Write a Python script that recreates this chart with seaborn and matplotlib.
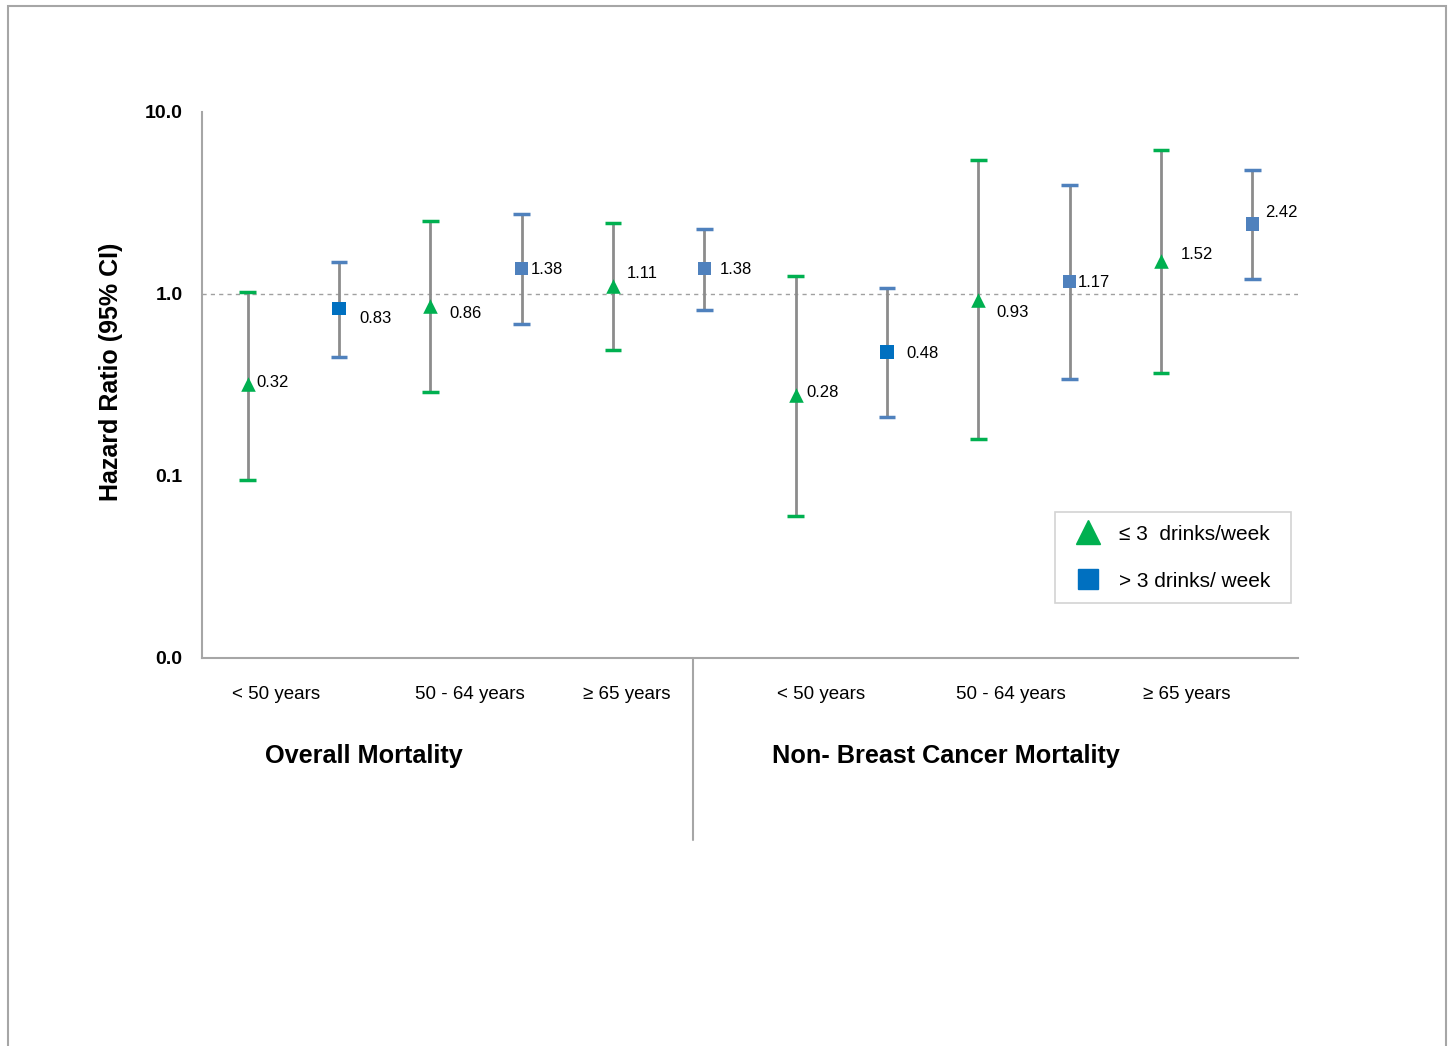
import numpy as np
import pandas as pd
import matplotlib
matplotlib.use("Agg")
import matplotlib.pyplot as plt
import seaborn as sns
from matplotlib.lines import Line2D
from matplotlib.patches import Rectangle

# datos
age_groups = ["< 50 years", "50 - 64 years", "\u2265 65 years",
              "< 50 years", "50 - 64 years", "\u2265 65 years"]
outcomes = ["Overall Mortality", "Non- Breast Cancer Mortality"]

hr_low = [0.32, 0.86, 1.11, 0.28, 0.93, 1.52]      # <= 3 drinks/week
ci_low_lo = [0.095, 0.29, 0.49, 0.06, 0.16, 0.37]
ci_low_hi = [1.03, 2.52, 2.46, 1.26, 5.45, 6.18]

hr_high = [0.83, 1.38, 1.38, 0.48, 1.17, 2.42]     # > 3 drinks/week
ci_high_lo = [0.45, 0.68, 0.82, 0.21, 0.34, 1.21]
ci_high_hi = [1.50, 2.75, 2.28, 1.08, 3.97, 4.80]
shade_high = ["dark", "light", "light", "dark", "light", "light"]

ytick_vals = [0.01, 0.1, 1, 10]
ytick_labels = ["0.0", "0.1", "1.0", "10.0"]

# desplazamientos de las etiquetas (pixeles)
off_low = [(9, 2), (19, -8), (14, 12), (11, 2), (18, -13), (20, 6)]
off_high = [(20, -10), (9, -1), (15, -1), (19, -1), (8, -1), (13, 12)]

GREEN = "#00B050"
BLUE_D = "#0070C0"
BLUE_L = "#4F81BD"
GREY = "#8C8C8C"
AXIS = "#A6A6A6"

n = len(hr_low)
idx = np.arange(n)
df_low = pd.DataFrame({"x": idx + 0.25, "hr": hr_low, "lo": ci_low_lo, "hi": ci_low_hi})
df_high = pd.DataFrame({"x": idx + 0.75, "hr": hr_high, "lo": ci_high_lo,
                        "hi": ci_high_hi, "shade": shade_high})

sns.set_style("white")
plt.rcParams["font.family"] = ["Liberation Sans", "DejaVu Sans"]
plt.rcParams["text.color"] = "black"
plt.rcParams["axes.labelcolor"] = "black"
plt.rcParams["xtick.color"] = "black"
plt.rcParams["ytick.color"] = "black"

fig = plt.figure(figsize=(14.5, 10.46), dpi=100)
ax = fig.add_axes([202 / 1450, 1 - 658 / 1046, 1096 / 1450, 546 / 1046])

# intervalos de confianza
cap = 0.045
for d, cap_col in [(df_low, GREEN), (df_high, BLUE_L)]:
    ax.vlines(d["x"], d["lo"], d["hi"], color=GREY, lw=2, zorder=2)
    ax.hlines(d["lo"], d["x"] - cap, d["x"] + cap, color=cap_col, lw=2.5, zorder=3)
    ax.hlines(d["hi"], d["x"] - cap, d["x"] + cap, color=cap_col, lw=2.5, zorder=3)

sns.scatterplot(data=df_low, x="x", y="hr", marker="^", color=GREEN, s=110,
                linewidth=0, ax=ax, legend=False, zorder=4)
sns.scatterplot(data=df_high, x="x", y="hr", hue="shade", marker="s",
                palette={"dark": BLUE_D, "light": BLUE_L}, s=95,
                linewidth=0, ax=ax, legend=False, zorder=4)

for d, offs in [(df_low, off_low), (df_high, off_high)]:
    for (x, v), (dx, dy) in zip(zip(d["x"], d["hr"]), offs):
        ax.annotate(f"{v:.2f}", (x, v), xytext=(dx, dy), textcoords="offset pixels",
                    ha="left", va="center", fontsize=12, color="black")

ax.axhline(1, color="#A0A0A0", lw=1, ls=(0, (3, 3)), zorder=1)

ax.set_yscale("log")
ax.set_ylim(0.01, 10)
ax.set_xlim(0, n)
ax.set_yticks(ytick_vals)
ax.set_yticklabels(ytick_labels, fontweight="bold", fontsize=14)
ax.yaxis.set_minor_locator(matplotlib.ticker.NullLocator())
ax.set_xticks(np.arange(n + 1))
ax.set_xticklabels([])
ax.tick_params(axis="y", direction="out", length=6, width=1.2, color=AXIS,
               labelcolor="black", pad=8)
ax.tick_params(axis="x", direction="inout", length=12, width=1.2, color=AXIS)
ax.set_xlabel("")
ax.set_ylabel("Hazard Ratio (95% CI)", fontsize=18, fontweight="bold", color="black")
ax.yaxis.set_label_coords(-0.072, 0.524)

for s in ["top", "right"]:
    ax.spines[s].set_visible(False)
for s in ["left", "bottom"]:
    ax.spines[s].set_color(AXIS)
    ax.spines[s].set_linewidth(1.5)

# etiquetas de categoria
label_x = [0.405, 1.464, 2.327, 3.391, 4.429, 5.39]
trans = matplotlib.transforms.blended_transform_factory(ax.transData, ax.transAxes)
for lx, lab in zip(label_x, age_groups):
    ax.text(lx, -0.066, lab, transform=trans, ha="center", va="center",
            fontsize=13.5, color="black")

title_x = [0.887, 4.07]
for tx, t in zip(title_x, outcomes):
    ax.text(tx, -0.18, t, transform=trans, ha="center", va="center",
            fontsize=18.2, fontweight="bold", color="black")

ax.plot([2.69, 2.69], [0, -0.333], transform=trans, color=AXIS, lw=1.5, clip_on=False)

handles = [
    Line2D([], [], marker="^", color=GREEN, ls="none", markersize=17),
    Line2D([], [], marker="s", color=BLUE_D, ls="none", markersize=15),
]
leg = fig.legend(handles, ["\u2264 3  drinks/week", "> 3 drinks/ week"],
                 loc="upper left",
                 bbox_to_anchor=(1055 / 1450, 1 - 604 / 1046, 236 / 1450, 92 / 1046),
                 mode="expand", fontsize=15, frameon=True, fancybox=False,
                 labelspacing=1.35, handletextpad=0.45, borderpad=0.6,
                 borderaxespad=0)
leg.get_frame().set_edgecolor("#C8C8C8")
leg.get_frame().set_linewidth(1.2)
for t in leg.get_texts():
    t.set_color("black")

fig.patches.append(Rectangle((8 / 1450, -0.01), 1438 / 1450, 1.01 - 6 / 1046,
                             transform=fig.transFigure, fill=False,
                             edgecolor="#A6A6A6", lw=1.5))

fig.savefig("out.png", dpi=100, facecolor="white")
